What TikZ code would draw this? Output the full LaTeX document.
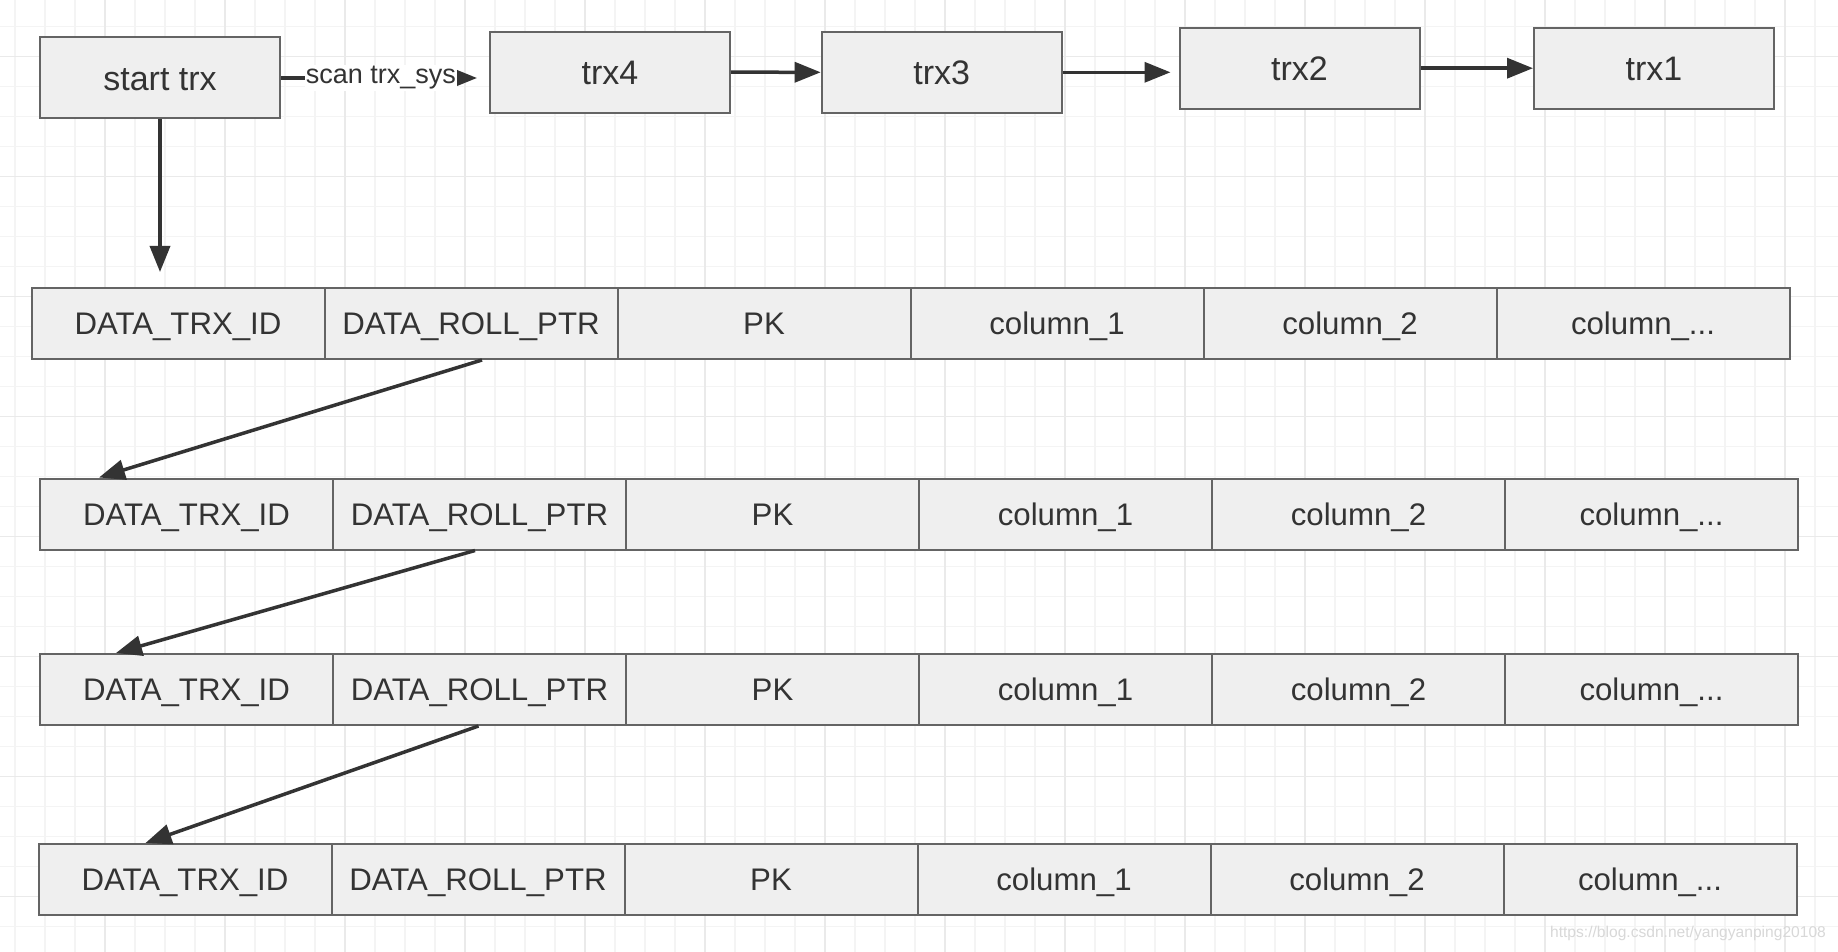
\documentclass[tikz,border=0pt]{standalone}
\usepackage{fontspec}
\setmainfont{Liberation Sans}
\usetikzlibrary{arrows.meta,calc}
\definecolor{txt}{HTML}{333333}
\definecolor{bord}{HTML}{646464}
\definecolor{boxfill}{HTML}{EFEFEF}
\definecolor{gridminor}{HTML}{F4F4F4}
\definecolor{gridmajor}{HTML}{EAEAEA}
\definecolor{arrc}{HTML}{333333}
\definecolor{wm}{HTML}{D8D8D8}
\newcommand\mythreedots{...}
\tikzset{
  trxbox/.style={draw=bord, fill=boxfill, line width=1pt, minimum width=120pt, minimum height=40.5pt, inner sep=0pt, text=txt, font=\fontsize{17}{20}\selectfont, text height=12.2pt, text depth=0pt},
  cell/.style={draw=bord, fill=boxfill, line width=1pt, minimum width=146.5pt, minimum height=35.5pt, inner sep=0pt, text=txt, font=\fontsize{15.6}{18}\selectfont, text height=11.2pt, text depth=0pt},
  arr/.style={draw=arrc, line width=1.75pt, -{Triangle[length=13pt,width=10pt]}},
  lbl/.style={fill=white, inner sep=0.5pt, text=txt, font=\fontsize{13.5}{15}\selectfont},
  gminor/.style={draw=gridminor, line width=0.6pt},
  gmajor/.style={draw=gridmajor, line width=0.7pt}
}
\begin{document}
\begin{tikzpicture}[x=0.5pt,y=-0.5pt]
\useasboundingbox (0,0) rectangle (1838,952);
\fill[white] (0,0) rectangle (1838,952);
% grid
\foreach \k in {0,...,60} { \draw[gminor] ({15+30*\k},0) -- ({15+30*\k},952); }
\foreach \k in {0,...,31} { \draw[gminor] (0,{-3.3+30*\k}) -- (1838,{-3.3+30*\k}); }
\foreach \k in {0,...,14} { \draw[gmajor] ({105+120*\k},0) -- ({105+120*\k},952); }
\foreach \k in {0,...,7} { \draw[gmajor] (0,{56.7+120*\k}) -- (1838,{56.7+120*\k}); }
% top boxes
\node[trxbox] (start) at (160,78) {start trx};
\node[trxbox] (trx4) at (610,72.2) {trx4};
\node[trxbox] (trx3) at (941.7,72.3) {trx3};
\node[trxbox] (trx2) at (1299.5,68.2) {trx2};
\node[trxbox] (trx1) at (1654,68.2) {trx1};
% rows
\foreach \r/\lx/\ty in {1/31.5/288, 2/40/478.5, 3/40/654, 4/38.5/844} {
  \foreach \t [count=\i] in {DATA\_TRX\_ID, DATA\_ROLL\_PTR, PK, column\_1, column\_2, column\_\mythreedots} {
    \node[cell] (n\r\i) at ({\lx+146.5+293*(\i-1)}, {\ty+35.5}) {\t};
  }
}
% connectors
\draw[arr, shorten >=7.5pt] (start.south) -- (start.south |- n11.north);
\draw[arr, shorten >=6pt] (start.east) -- (start.east -| trx4.west)
  node[lbl, pos=0.48] (scanlbl) {scan trx\_sys};
\draw[arr] (trx4.east) -- (trx3.west);
\draw[arr, shorten >=4pt] (trx3.east) -- (trx3.east -| trx2.west);
\draw[arr] (trx2.east) -- (trx1.west);
\draw[arr] ($(n12.south)+(11,0)$) -- ($(n21.north west)+(60,0)$);
\draw[arr] ($(n22.south)+(-4.5,0)$) -- ($(n31.north west)+(77,0)$);
\draw[arr] ($(n32.south)+(-1,0)$) -- ($(n41.north west)+(108,0)$);
% watermark
\node[text=wm, font=\fontsize{7.8}{9}\selectfont, inner sep=0pt] (wmark) at (1688,933) {https://blog.csdn.net/yangyanping20108};
\end{tikzpicture}
\end{document}
